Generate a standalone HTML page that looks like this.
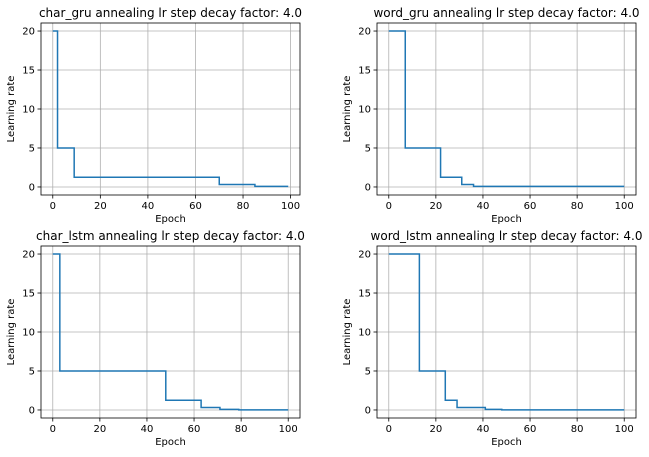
<!DOCTYPE html>
<html><head><meta charset="utf-8"><style>
body{margin:0;background:#fff;}
svg{display:block;font-family:"DejaVu Sans","Liberation Sans",sans-serif;}
</style></head><body>
<svg id="fig" width="649" height="457"></svg>
<script>
const titles=["char_gru annealing lr step decay factor: 4.0","word_gru annealing lr step decay factor: 4.0","char_lstm annealing lr step decay factor: 4.0","word_lstm annealing lr step decay factor: 4.0"];
const names=["char-gru","word-gru","char-lstm","word-lstm"];
const charGruEpochs=[0,2,9,70,85,99];
const charGruLR=[20,5,1.25,0.3125,0.078];
const wordGruEpochs=[0,7,22,31,36,100];
const wordGruLR=[20,5,1.25,0.3125,0.078];
const charLstmEpochs=[0,3,48,63,71,79,100];
const charLstmLR=[20,5,1.25,0.3125,0.078,0.0195];
const wordLstmEpochs=[0,13,24,29,41,48,100];
const wordLstmLR=[20,5,1.25,0.3125,0.078,0.0195];
const xTicks=[0,20,40,60,80,100];
const yTicks=[0,5,10,15,20];
const epochs=[charGruEpochs,wordGruEpochs,charLstmEpochs,wordLstmEpochs];
const lrs=[charGruLR,wordGruLR,charLstmLR,wordLstmLR];
const NS="http://www.w3.org/2000/svg";
const fig=document.getElementById('fig');
function mk(tag,attrs,parent,text){const e=document.createElementNS(NS,tag);for(const k in attrs)e.setAttribute(k,attrs[k]);if(text!==undefined)e.textContent=text;parent.appendChild(e);return e;}
const boxes=[[41,23],[377,23],[41,246],[377,246]];
const W=259,H=172;
for(let p=0;p<4;p++){
  const [L,T]=boxes[p];
  const ep=epochs[p],lr=lrs[p];
  const xmax=ep[ep.length-1];
  const pad=xmax*0.05;
  const x0=-pad,x1=xmax+pad;
  const sx=v=>L+(v-x0)/(x1-x0)*W;
  const sy=v=>T+(21.03-v)/(22.06)*H;
  const g=mk('g',{},fig);
  
  
  const t=mk('text',{x:L+W/2,y:T-6,'text-anchor':'middle','font-size':12},g,titles[p]);
  
  
  xTicks.forEach(v=>{const X=sx(v);
    const gl=mk('line',{x1:X,x2:X,y1:T,y2:T+H,stroke:'#b0b0b0','stroke-width':0.8},g);
    
    mk('line',{x1:X,x2:X,y1:T+H,y2:T+H+3.5,stroke:'#000','stroke-width':0.8},g);
    const tl=mk('text',{x:X,y:T+H+14,'text-anchor':'middle','font-size':10,fill:'#000'},g,String(v));
    });
  yTicks.forEach(v=>{const Y=sy(v);
    const gl=mk('line',{x1:L,x2:L+W,y1:Y,y2:Y,stroke:'#b0b0b0','stroke-width':0.8},g);
    
    mk('line',{x1:L-3.5,x2:L,y1:Y,y2:Y,stroke:'#000','stroke-width':0.8},g);
    const tl=mk('text',{x:L-6,y:Y+3.5,'text-anchor':'end','font-size':10,fill:'#000'},g,String(v));
    });
  let d='M'+sx(ep[0])+','+sy(lr[0]);
  for(let i=0;i<lr.length;i++){d+=' L'+sx(ep[i+1])+','+sy(lr[i]);if(i+1<lr.length)d+=' L'+sx(ep[i+1])+','+sy(lr[i+1]);}
  const line=mk('path',{d:d,fill:'none',stroke:'#1f77b4','stroke-width':1.5},g);
  
  const fr=mk('rect',{x:L,y:T,width:W,height:H,fill:'none',stroke:'#000','stroke-width':0.8},g);
  
  const xl=mk('text',{x:L+W/2,y:T+H+27,'text-anchor':'middle','font-size':10},g,'Epoch');
  
  const yl=mk('text',{x:0,y:0,'text-anchor':'middle','font-size':10,transform:`translate(${L-27},${T+H/2}) rotate(-90)`},g,'Learning rate');
  
}
</script>
</body></html>
